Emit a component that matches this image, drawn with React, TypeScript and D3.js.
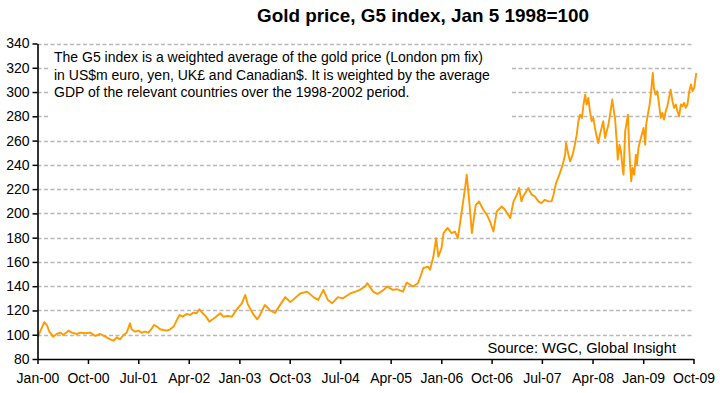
import { useEffect, useRef } from "react";
import * as d3 from "d3";

// G5 gold index (Jan 5 1998 = 100)
const y2000to2002: [string, number][] = [
  ["2000-01-04", 98.4], ["2000-01-15", 102.5], ["2000-02-07", 110.3], ["2000-02-21", 108],
  ["2000-03-05", 102.5], ["2000-03-26", 98.4], ["2000-04-14", 100.6], ["2000-05-06", 101.7],
  ["2000-05-20", 99.8], ["2000-06-17", 103.4], ["2000-07-05", 101.7], ["2000-08-02", 100.6],
  ["2000-08-20", 101.7], ["2000-09-16", 101.2], ["2000-10-13", 101.7], ["2000-11-10", 99],
  ["2000-12-06", 100.6], ["2001-01-03", 98.4], ["2001-01-30", 96.2], ["2001-02-18", 95.1],
  ["2001-03-06", 97.9], ["2001-03-24", 96.2], ["2001-04-11", 99.8], ["2001-04-29", 101.7],
  ["2001-05-17", 109.4], ["2001-05-26", 104.5], ["2001-06-14", 102.5], ["2001-07-02", 103.4],
  ["2001-07-19", 101.7], ["2001-08-07", 102.5], ["2001-08-25", 101.7], ["2001-09-13", 105.3],
  ["2001-09-25", 108], ["2001-10-10", 106.7], ["2001-10-28", 104.5], ["2001-11-15", 103.9],
  ["2001-12-03", 103.4], ["2001-12-21", 104.5], ["2002-01-09", 106.7], ["2002-01-27", 112.2],
  ["2002-02-10", 116.3], ["2002-02-27", 114.9], ["2002-03-20", 117.1], ["2002-04-08", 116.3],
  ["2002-04-26", 118.2], ["2002-05-14", 117.7], ["2002-05-28", 121], ["2002-06-16", 117.7],
  ["2002-07-04", 114.9], ["2002-07-22", 110.8], ["2002-08-09", 112.7], ["2002-08-27", 114.9],
  ["2002-09-19", 117.7], ["2002-10-06", 114.9], ["2002-10-28", 115.4], ["2002-11-21", 114.9],
  ["2002-12-09", 119], ["2002-12-27", 122.6],
];

const y2003to2005: [string, number][] = [
  ["2003-01-14", 125.9], ["2003-02-02", 132.8], ["2003-02-14", 125.9], ["2003-02-27", 121.8],
  ["2003-03-20", 116.3], ["2003-04-08", 112.7], ["2003-04-22", 116], ["2003-05-01", 119],
  ["2003-05-19", 124.5], ["2003-06-07", 121.8], ["2003-06-16", 120], ["2003-07-13", 118],
  ["2003-08-10", 124.6], ["2003-09-07", 131], ["2003-10-04", 127], ["2003-10-19", 128.7],
  ["2003-11-27", 134], ["2004-01-04", 135.5], ["2004-02-07", 131], ["2004-03-04", 128.7],
  ["2004-04-01", 137], ["2004-04-25", 128.7], ["2004-05-19", 126], ["2004-06-19", 131],
  ["2004-07-16", 130], ["2004-08-25", 134], ["2004-09-22", 135.5], ["2004-10-16", 137],
  ["2004-11-13", 139.7], ["2004-11-25", 142.5], ["2004-12-27", 135.5], ["2005-01-19", 133.6],
  ["2005-02-22", 137], ["2005-03-13", 139.7], ["2005-04-13", 137], ["2005-05-04", 137.5],
  ["2005-06-07", 135.5], ["2005-06-27", 143], ["2005-08-01", 139.7], ["2005-08-27", 142.5],
  ["2005-09-10", 148], ["2005-09-25", 155], ["2005-10-22", 156], ["2005-11-01", 153.5],
  ["2005-11-19", 164.4], ["2005-12-04", 179.6], ["2005-12-16", 164.4],
];

const y2006to2007: [string, number][] = [
  ["2006-01-02", 171.4], ["2006-01-13", 183.8], ["2006-02-04", 188], ["2006-02-25", 183.8],
  ["2006-03-16", 185], ["2006-04-01", 179.6], ["2006-04-22", 201.6], ["2006-05-10", 220.9],
  ["2006-05-19", 231.9], ["2006-06-01", 211], ["2006-06-16", 183.8], ["2006-07-07", 207],
  ["2006-07-25", 209.8], ["2006-08-17", 203], ["2006-09-05", 198.9], ["2006-09-22", 193.4],
  ["2006-10-11", 185.1], ["2006-10-29", 201.6], ["2006-11-25", 205.7], ["2006-12-13", 203],
  ["2007-01-10", 196.1], ["2007-01-28", 209.9], ["2007-02-15", 215.4], ["2007-02-27", 220.9],
  ["2007-03-12", 209.9], ["2007-03-21", 214], ["2007-04-18", 220.9], ["2007-05-06", 215.4],
  ["2007-05-24", 214], ["2007-06-12", 209.9], ["2007-06-28", 208.5], ["2007-07-17", 211.2],
  ["2007-08-05", 209.9], ["2007-08-23", 209.9], ["2007-09-02", 215.4], ["2007-09-16", 225],
  ["2007-10-04", 231.9], ["2007-10-22", 240.1], ["2007-11-04", 248.4], ["2007-11-09", 258],
  ["2007-11-22", 248.4], ["2007-12-01", 242.9], ["2007-12-15", 248.4], ["2007-12-27", 256.6],
];

const y2008to2009: [string, number][] = [
  ["2008-01-06", 264.9], ["2008-01-15", 275.9], ["2008-01-24", 281.4], ["2008-02-03", 278.7],
  ["2008-02-12", 289.7], ["2008-02-21", 297.9], ["2008-02-29", 289.7], ["2008-03-09", 295.2],
  ["2008-03-18", 284.1], ["2008-03-27", 275.9], ["2008-04-05", 278.7], ["2008-04-14", 270.4],
  ["2008-04-23", 263.5], ["2008-05-02", 258], ["2008-05-11", 264.9], ["2008-05-20", 270.4],
  ["2008-05-29", 275.9], ["2008-06-08", 262.2], ["2008-06-17", 267.6], ["2008-06-26", 273.1],
  ["2008-07-05", 281.4], ["2008-07-17", 293.8], ["2008-07-26", 284.1], ["2008-08-01", 278.7],
  ["2008-08-10", 259.4], ["2008-08-16", 244.3], ["2008-08-25", 256.6], ["2008-09-02", 251.1],
  ["2008-09-13", 234.6], ["2008-09-16", 231.9], ["2008-09-25", 267.6], ["2008-10-04", 275.9],
  ["2008-10-10", 281.4], ["2008-10-17", 253.9], ["2008-10-22", 240.1], ["2008-10-28", 226.4],
  ["2008-11-04", 237.4], ["2008-11-13", 231.9], ["2008-11-22", 248.4], ["2008-11-28", 240.1],
  ["2008-12-06", 253.9], ["2008-12-15", 259.4], ["2008-12-24", 264.9], ["2009-01-03", 270.4],
  ["2009-01-12", 256.6], ["2009-01-17", 273.1], ["2009-01-26", 281.4], ["2009-02-05", 289.7],
  ["2009-02-13", 300.7], ["2009-02-22", 315.8], ["2009-02-28", 303.4], ["2009-03-09", 297.9],
  ["2009-03-18", 300.7], ["2009-03-27", 291], ["2009-04-06", 278.7], ["2009-04-15", 282.8],
  ["2009-04-24", 277.3], ["2009-05-03", 284.1], ["2009-05-12", 288.3], ["2009-05-21", 295.2],
  ["2009-05-30", 302], ["2009-06-09", 292.4], ["2009-06-18", 286.9], ["2009-06-27", 289.7],
  ["2009-07-06", 284.1], ["2009-07-15", 280], ["2009-07-24", 289.7], ["2009-08-02", 288.3],
  ["2009-08-11", 291], ["2009-08-20", 286.9], ["2009-08-29", 289.7], ["2009-09-08", 300.7],
  ["2009-09-17", 306.2], ["2009-09-26", 300.7], ["2009-10-05", 303.4], ["2009-10-16", 315.8],
];

const yTicks = [80, 100, 120, 140, 160, 180, 200, 220, 240, 260, 280, 300, 320, 340];
const xTickLabels = [
  "Jan-00", "Oct-00", "Jul-01", "Apr-02", "Jan-03", "Oct-03", "Jul-04",
  "Apr-05", "Jan-06", "Oct-06", "Jul-07", "Apr-08", "Jan-09", "Oct-09",
];

const noteLines = [
  "The G5 index is a weighted average of the gold price (London pm fix)",
  "in US$m euro, yen, UK\u00a3 and Canadian$. It is weighted by the average",
  "GDP of the relevant countries over the 1998-2002 period.",
];

function App() {
  const ref = useRef<SVGSVGElement>(null);

  useEffect(() => {
    if (!ref.current) return;
    const svg = d3.select(ref.current);
    svg.selectAll("*").remove();

    const parse = d3.timeParse("%Y-%m-%d");
    const parseTick = d3.timeParse("%b-%y");
    const data = [...y2000to2002, ...y2003to2005, ...y2006to2007, ...y2008to2009].map(
      ([d, v]) => ({ date: parse(d) as Date, value: v })
    );
    const tickDates = xTickLabels.map((t) => parseTick(t) as Date);

    const left = 37.5,
      right = 693.5,
      top = 43.5,
      bottom = 359;

    const x = d3
      .scaleTime()
      .domain([tickDates[0], tickDates[tickDates.length - 1]])
      .range([left, right]);
    const y = d3.scaleLinear().domain([80, 340]).range([bottom, top]);

    const font = "'Liberation Sans', Arial, sans-serif";

    // gridlines
    svg
      .append("g")
      .selectAll("line")
      .data(yTicks.filter((t) => t > 80))
      .enter()
      .append("line")
      .attr("x1", left)
      .attr("x2", right)
      .attr("y1", (d) => Math.round(y(d)) + 0.5)
      .attr("y2", (d) => Math.round(y(d)) + 0.5)
      .attr("stroke", "#b8b8b8")
      .attr("stroke-width", 1.5)
      .attr("stroke-dasharray", "4,2.5");

    // white box behind the note
    svg
      .append("rect")
      .attr("x", 50)
      .attr("y", 50)
      .attr("width", 462)
      .attr("height", 74)
      .attr("fill", "#fff");

    svg
      .append("g")
      .selectAll("text")
      .data(noteLines)
      .enter()
      .append("text")
      .attr("x", 54)
      .attr("y", (d, i) => 62 + i * 17.5)
      .attr("font-family", font)
      .attr("font-size", 14)
      .attr("fill", "#000")
      .text((d) => d);

    // line
    const line = d3
      .line<{ date: Date; value: number }>()
      .x((d) => x(d.date))
      .y((d) => y(d.value))
      .curve(d3.curveLinear);
    svg
      .append("path")
      .datum(data)
      .attr("d", line)
      .attr("fill", "none")
      .attr("stroke", "#FF9A00")
      .attr("stroke-width", 1.9)
      .attr("stroke-linejoin", "round");

    // axes
    const yAxis = svg
      .append("g")
      .attr("transform", `translate(${left},0)`)
      .call(d3.axisLeft(y).tickValues(yTicks).tickSize(5).tickSizeOuter(0).tickPadding(3));
    const xAxis = svg
      .append("g")
      .attr("transform", `translate(0,${bottom})`)
      .call(
        d3
          .axisBottom(x)
          .tickValues(tickDates)
          .tickSize(5)
          .tickSizeOuter(0)
          .tickPadding(9)
          .tickFormat((d, i) => xTickLabels[i])
      );
    [yAxis, xAxis].forEach((g) => {
      g.select(".domain").attr("stroke", "#000").attr("stroke-width", 1.6);
      g.selectAll(".tick line").attr("stroke", "#000").attr("stroke-width", 1.5);
      g.selectAll(".tick text")
        .attr("font-family", font)
        .attr("font-size", 14)
        .attr("fill", "#000");
    });

    // title
    svg
      .append("text")
      .attr("x", 423)
      .attr("y", 22)
      .attr("text-anchor", "middle")
      .attr("font-family", font)
      .attr("font-weight", "bold")
      .attr("font-size", 19)
      .attr("textLength", 332)
      .attr("lengthAdjust", "spacingAndGlyphs")
      .attr("fill", "#000")
      .text("Gold price, G5 index, Jan 5 1998=100");

    svg
      .append("text")
      .attr("x", 676)
      .attr("y", 353)
      .attr("text-anchor", "end")
      .attr("font-family", font)
      .attr("font-size", 14.7)
      .attr("fill", "#000")
      .text("Source: WGC, Global Insight");
  }, []);

  return (
    <svg
      ref={ref}
      width={720}
      height={393}
      style={{ position: "absolute", left: 0, top: 0, background: "#fff" }}
    />
  );
}

export default App;
